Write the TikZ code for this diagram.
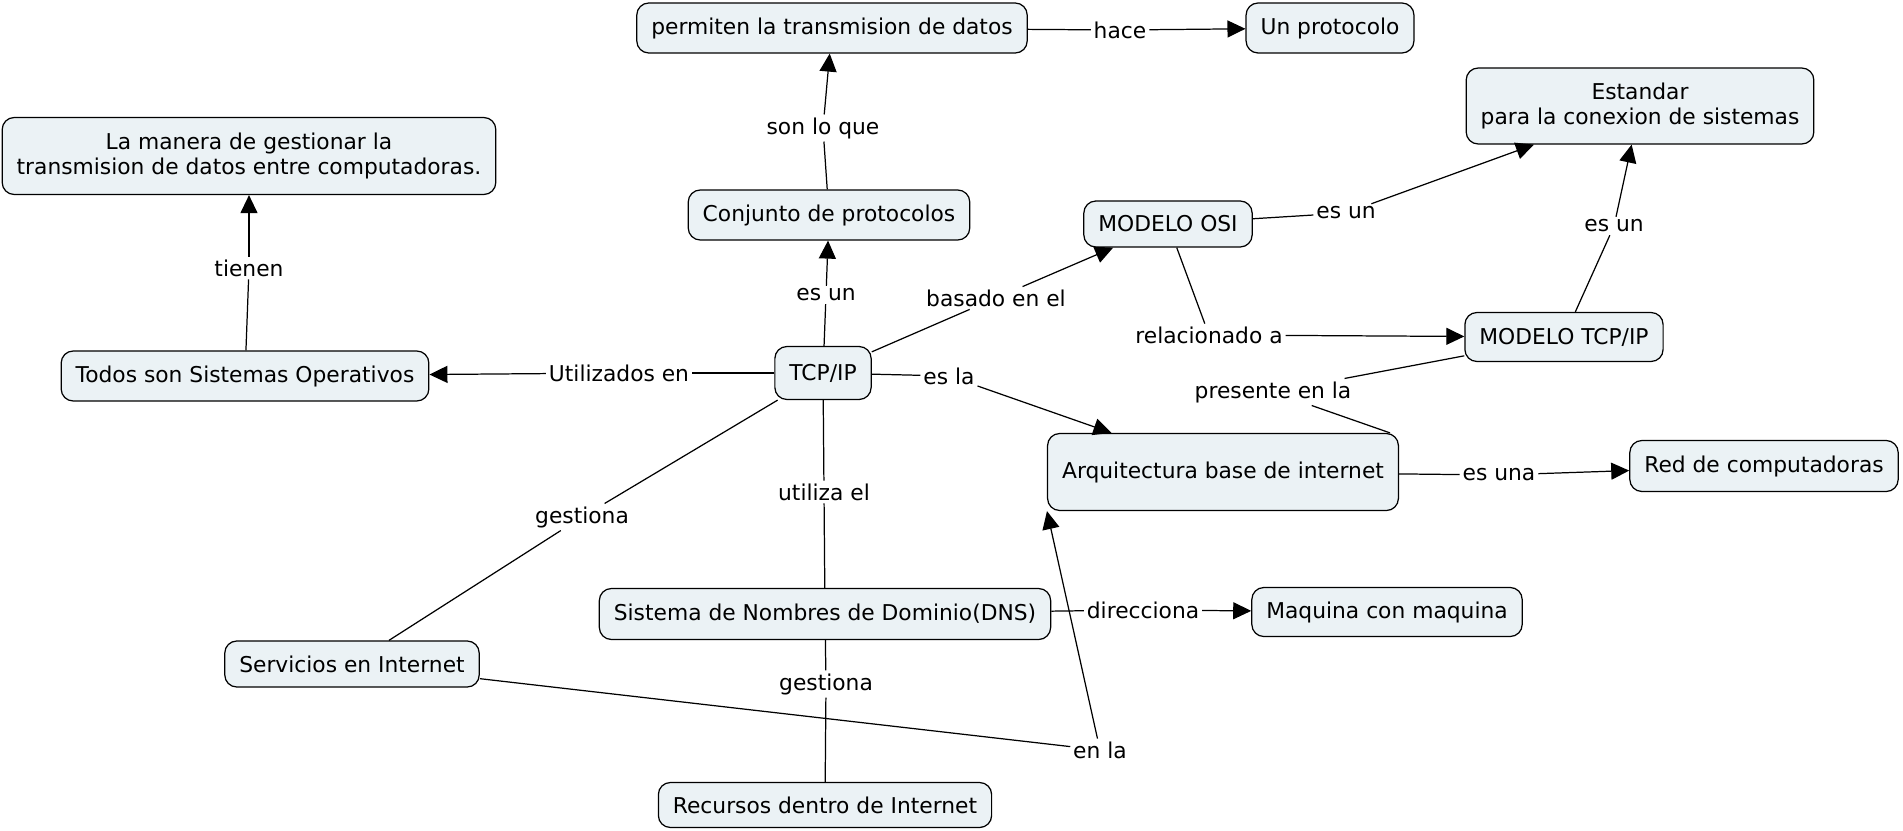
\documentclass[tikz,border=0pt]{standalone}
\usepackage{fontspec}
\setmainfont{DejaVu Sans}
\usetikzlibrary{arrows.meta}
\definecolor{cfill}{RGB}{235,242,245}
\begin{document}
\begin{tikzpicture}[x=0.02cm, y=-0.02cm,
  concept/.style={draw, fill=cfill, rounded corners=0.24cm, line width=0.7pt, align=center,
    inner xsep=0.29cm, inner ysep=0pt, minimum height=1cm, font=\fontsize{12.4}{14.2}\selectfont},
  link/.style={inner sep=1.5pt, font=\fontsize{12.4}{14.2}\selectfont},
  con/.style={line width=0.7pt},
  arr/.style={-{Triangle[length=0.36cm, width=0.34cm]}}]
\useasboundingbox (0,0) rectangle (1903,831);
\node[concept] (perm) at (832,28){permiten la transmision de datos};
\node[concept] (proto) at (1330,28){Un protocolo};
\node[concept, minimum height=1.52cm] (est) at (1640,106){Estandar\\para la conexion de sistemas};
\node[concept, minimum height=1.54cm] (manera) at (249,156){La manera de gestionar la\\transmision de datos entre computadoras.};
\node[concept] (conj) at (829,215){Conjunto de protocolos};
\node[concept, minimum height=0.92cm] (osi) at (1168,224){MODELO OSI};
\node[concept] (todos) at (245,376){Todos son Sistemas Operativos};
\node[concept, minimum height=1.06cm] (tcp) at (823,373){TCP/IP};
\node[concept, minimum height=0.98cm] (tcpm) at (1564,337){MODELO TCP/IP};
\node[concept, minimum height=1.54cm] (arq) at (1223,472){Arquitectura base de internet};
\node[concept, minimum height=1.02cm] (red) at (1764,466){Red de computadoras};
\node[concept, minimum height=1.02cm] (dns) at (825,614){Sistema de Nombres de Dominio(DNS)};
\node[concept, minimum height=0.98cm] (maq) at (1387,612){Maquina con maquina};
\node[concept, minimum height=0.92cm] (serv) at (352,664){Servicios en Internet};
\node[concept, minimum height=0.9cm] (rec) at (825,805){Recursos dentro de Internet};
\node[link] (hace) at (1120,30){hace};
\node[link] (sonlo) at (823,128){son lo que};
\node[link] (tienen) at (249,268){tienen};
\node[link] (esun1) at (826,295){es un};
\node[link] (basado) at (996,298){basado en el};
\node[link] (utilizados) at (619,373){Utilizados en};
\node[link] (esla) at (949,376){es la};
\node[link] (esun2) at (1346,213){es un};
\node[link] (esun3) at (1614,226){es un};
\node[link] (rel) at (1209,335){relacionado a};
\node[link] (presente) at (1273,392){presente en la};
\node[link] (esuna) at (1499,475){es una};
\node[link] (direcc) at (1143,610){direcciona};
\node[link] (gest1) at (582,517){gestiona};
\node[link] (utiliza) at (824,492){utiliza el};
\node[link] (gest2) at (826,684){gestiona};
\node[link] (enla) at (1100,750){en la};
\draw[con](perm) -- (hace);
\draw[con, arr](hace) -- (proto);
\draw[con](conj) -- (sonlo);
\draw[con, arr](sonlo) -- (perm);
\draw[con](todos) -- (tienen);
\draw[con, arr](tienen) -- (manera);
\draw[con](tcp) -- (esun1);
\draw[con, arr](esun1) -- (conj);
\draw[con](tcp) -- (basado);
\draw[con, arr](basado) -- (osi);
\draw[con](tcp) -- (utilizados);
\draw[con, arr](utilizados) -- (todos);
\draw[con](tcp) -- (esla);
\draw[con, arr](esla) -- (arq);
\draw[con](osi) -- (esun2);
\draw[con, arr](esun2) -- (est);
\draw[con](tcpm) -- (esun3);
\draw[con, arr](esun3) -- (est);
\draw[con](osi) -- (rel);
\draw[con, arr](rel) -- (tcpm);
\draw[con](tcpm) -- (presente);
\draw[con](presente) -- ([xshift=-0.18cm]arq.north east);
\draw[con](arq) -- (esuna);
\draw[con, arr](esuna) -- (red);
\draw[con](dns) -- (direcc);
\draw[con, arr](direcc) -- (maq);
\draw[con](tcp) -- (gest1);
\draw[con](gest1) -- (serv);
\draw[con](tcp) -- (utiliza);
\draw[con](utiliza) -- (dns);
\draw[con](dns) -- (gest2);
\draw[con](gest2) -- (rec);
\draw[con](serv) -- (enla);
\draw[con, arr](enla) -- (arq.south west);
\end{tikzpicture}
\end{document}
